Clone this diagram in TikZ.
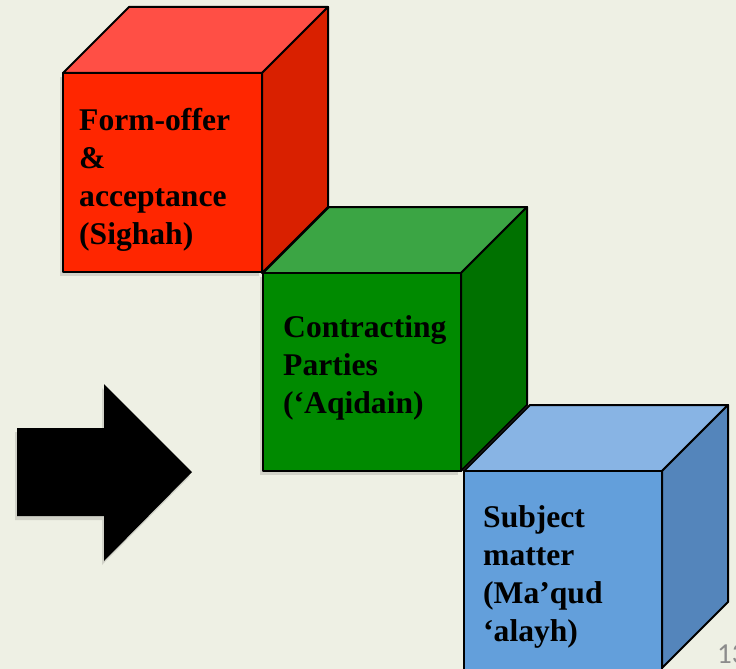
\documentclass[tikz,border=0pt]{standalone}
\usepackage{fontspec}
\setmainfont{Liberation Serif}
\newfontfamily\pagenumfont{Carlito}
\usetikzlibrary{calc}
\begin{document}
\begin{tikzpicture}[x=1pt,y=-1pt,
  face/.style={draw=black,line width=2pt,line join=round},
  label/.style={anchor=base west,inner sep=0pt,align=left,
    font=\bfseries\fontsize{31.6}{38}\selectfont,text=black},
  dropshadow/.style={fill=black,opacity=0.12}]
\definecolor{bgcol}{HTML}{EEF0E4}
\definecolor{redfront}{HTML}{FF2600}
\definecolor{redtop}{HTML}{FF4F45}
\definecolor{redside}{HTML}{D92000}
\definecolor{greenfront}{HTML}{008A00}
\definecolor{greentop}{HTML}{3BA544}
\definecolor{greenside}{HTML}{007100}
\definecolor{bluefront}{HTML}{639FDB}
\definecolor{bluetop}{HTML}{88B4E4}
\definecolor{blueside}{HTML}{5485BB}
\fill[bgcol] (0,0) rectangle (736,669);
\useasboundingbox (0,0) rectangle (736,669);

% front top-left corners of the three cubes
\coordinate (rc) at (63,73);
\coordinate (gc) at (263,273);
\coordinate (bc) at (464,471);

% red cube
\fill[dropshadow] ($(rc)+(-3,4)$) rectangle ++(199,199);
\filldraw[face,fill=redtop] (rc) -- ++(66,-66) -- ++(199,0) -- ++(-66,66) -- cycle;
\filldraw[face,fill=redside] ($(rc)+(199,0)$) -- ++(66,-66) -- ++(0,200) -- ++(-66,66) -- cycle;
\filldraw[face,fill=redfront] (rc) rectangle ++(199,199);

% green cube
\fill[dropshadow] ($(gc)+(-3,4)$) rectangle ++(198,198);
\filldraw[face,fill=greentop] (gc) -- ++(66,-66) -- ++(198,0) -- ++(-66,66) -- cycle;
\filldraw[face,fill=greenside] ($(gc)+(198,0)$) -- ++(66,-66) -- ++(0,198) -- ++(-66,66) -- cycle;
\filldraw[face,fill=greenfront] (gc) rectangle ++(198,198);

% blue cube
\filldraw[face,fill=bluetop] (bc) -- ++(66,-66) -- ++(198,0) -- ++(-66,66) -- cycle;
\filldraw[face,fill=blueside] ($(bc)+(198,0)$) -- ++(66,-66) -- ++(0,197) -- ++(-66,66) -- cycle;
\filldraw[face,fill=bluefront] (bc) rectangle ++(198,210);

% labels on the front faces (anchored at the last line's baseline)
\node[label] (sighah) at (79,244) {Form-offer\\\&\\acceptance\\(Sighah)};
\node[label] (parties) at (283,413) {Contracting\\Parties\\(‘Aqidain)};
\node[label] (subject) at (483,641) {Subject\\matter\\(Ma’qud\\‘alayh)};

% arrow
\fill[dropshadow] (15,432) -- (102,432) -- (102,388) -- (190,476) -- (102,565) -- (102,520) -- (15,520) -- cycle;
\fill[black] (17,428) -- (104,428) -- (104,384) -- (192,472) -- (104,561) -- (104,516) -- (17,516) -- cycle;

% slide number, running off the right edge
\node[anchor=base west,inner sep=0pt,text=black!45,
  font=\pagenumfont\fontsize{29}{30}\selectfont] (pagenum) at (717,663) {13};
\end{tikzpicture}
\end{document}
